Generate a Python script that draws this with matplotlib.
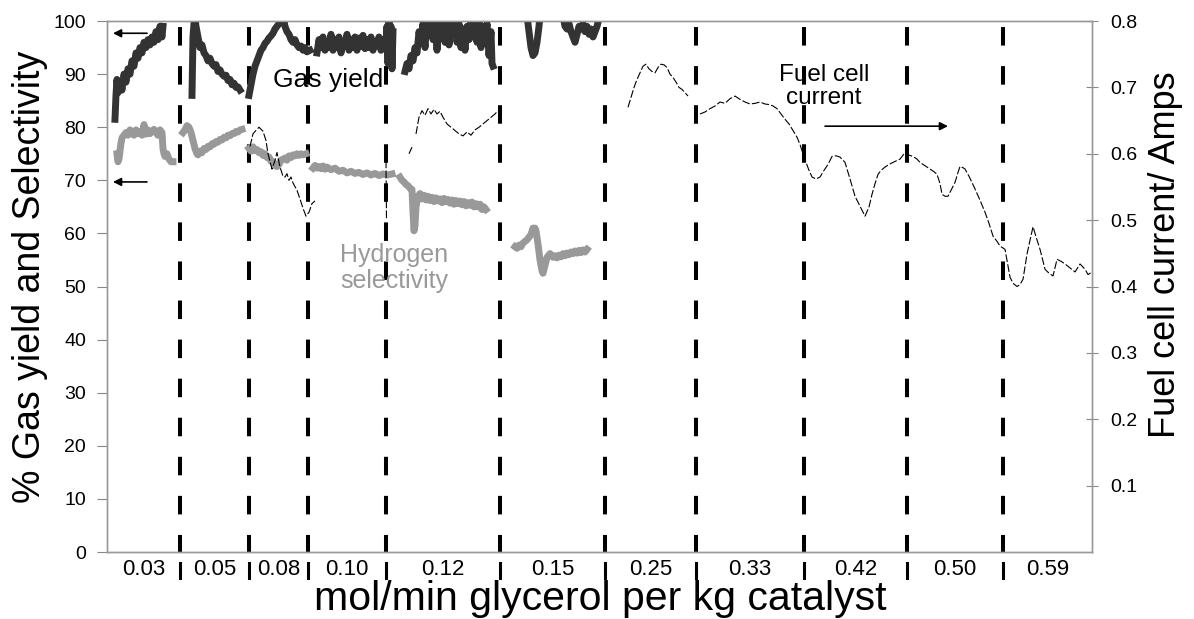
import numpy as np
import matplotlib.pyplot as plt
import matplotlib.transforms as mtransforms

plt.rcParams['font.family'] = ['Liberation Sans', 'DejaVu Sans']

nan = np.nan

# feed rate steps (mol/min glycerol per kg catalyst) and where they change on the run clock
feed_rates = ["0.03", "0.05", "0.08", "0.10", "0.12", "0.15", "0.25", "0.33", "0.42", "0.50", "0.59"]
changes = [0, 73, 142, 201, 279, 393, 498, 589, 697, 800, 896, 985]

# gas yield (%), segments split by nan
gas_t = [8, 9, 10, 11, 13, 15, 17, 19, 21, 23, 25, 27, 29, 31, 33, 35, 37, 39, 41, 43, 45, 47, 49, 51, 53, 55, 56, nan,
         85, 86, 87, 88, 89, 91, 93, 95, 97, 99, 101, 103, 105, 107, 109, 111, 113, 115, 117, 119, 121, 123, 125,
         127, 129, 131, 133, nan,
         142, 144, 146, 148, 150, 152, 154, 156, 158, 160, 162, 164, 166, 168, 170, 172, 174, 176, 178, 180, 182,
         184, 186, 188, 190, 192, 194, 196, 198, 200, 203, nan,
         210, 212, 214, 216, 218, 220, 222, 224, 226, 228, 230, 232, 234, 236, 238, 240, 242, 244, 246, 248, 250,
         252, 254, 256, 258, 260, 262, 264, 266, 268, 270, 272, 274, 276, 278, 279, 280, 281, 282, 283, 284, 285,
         286, nan,
         298, 300, 302, 304, 306, 308, 310, 312, 314, 316, 318, 320, 322, 324, 326, 328, 330, 332, 334, 336, 338,
         340, 342, 344, 346, 348, 350, 352, 354, 356, 358, 360, 362, 364, 366, 368, 370, 372, 374, 376, 378, 380,
         382, 384, 385, 386, nan,
         420, 422, 424, 426, 428, 430, 432, 433, nan,
         456, 458, 460, 462, 464, 466, 468, 470, 472, 474, 476, 478, 480, 482, 484, 486, 488, 490, 492]
gas_yield = [81.5, 86, 89, 86.5, 88.5, 87, 90, 88.5, 91, 90, 92.5, 91.5, 94, 93, 95, 94, 96, 95, 96.5, 95.5, 97, 96,
             98, 96.5, 99, 97, 99, nan,
             86, 97, 99.5, 100.5, 99, 97, 95, 95.5, 94, 93.5, 92.5, 93, 92, 91.5, 91.8, 90.5, 90.8, 90, 89.6, 89.8,
             88.8, 89, 88, 88.3, 87.5, 87.6, 87, nan,
             86, 88, 90, 91.5, 92.5, 93.5, 94.5, 95, 95.8, 96.2, 96.8, 97.2, 97.7, 98.5, 99, 99.5, 100.5, 101, 99,
             98, 97.5, 96.5, 96, 96.5, 95.5, 95, 95.3, 94.5, 95, 94.2, 94.5, nan,
             94, 96.5, 95, 97, 94.5, 96, 95, 97.5, 94.5, 96.5, 95, 97, 94, 96, 95.5, 97.5, 94.5, 96.5, 95, 97, 94.5,
             96.8, 95.2, 97.3, 94.8, 96.5, 95, 97, 94.5, 96, 95.5, 97, 94.5, 96.5, 95, 96, 99, 92, 100, 93, 99, 91,
             98, nan,
             90.5, 92, 91, 93.5, 92.5, 95, 94, 98, 96, 99.5, 95, 100.5, 97.5, 101, 96.5, 100, 94.5, 99, 97, 101, 96,
             100, 95.5, 99.5, 97.5, 101, 96, 99.5, 95, 98.5, 94.5, 99, 96.5, 100.5, 97, 99, 96, 100, 95, 99, 96,
             99.5, 93.5, 98, 92, 91.5, nan,
             101, 98, 95, 93.5, 94, 96, 99, 101, nan,
             101, 99, 98.5, 99.5, 98, 97, 96, 97.5, 99, 98.5, 99.5, 98, 99, 97.5, 98.5, 97, 98, 99, 100.5]

# hydrogen selectivity (%)
sel_t = [10, 11, 12, 13, 14, 15, 17, 19, 21, 23, 25, 27, 29, 31, 33, 35, 37, 39, 41, 43, 45, 47, 49, 51, 53, 55, 56,
         57, 58, 60, 62, 64, 66, nan,
         76, 78, 80, 82, 84, 86, 88, 90, 91, 93, 95, 97, 99, 101, 103, 105, 107, 109, 111, 113, 115, 117, 119, 121,
         123, 125, 127, 129, 131, 133, 135, nan,
         142, 144, 146, 148, 150, 152, 154, 156, 158, 160, 162, 164, 166, 168, 170, 172, 174, 176, 178, 180, 182,
         184, 186, 188, 190, 192, 194, 196, 199, nan,
         206, 208, 210, 212, 214, 216, 218, 220, 224, 228, 232, 236, 240, 244, 248, 252, 256, 260, 264, 268, 272,
         276, 280, 285, nan,
         293, 295, 297, 299, 301, 303, 305, 306, 307, 308, 309, 311, 313, 315, 317, 319, 321, 323, 325, 327, 329,
         331, 333, 335, 337, 339, 341, 343, 345, 347, 349, 351, 353, 355, 357, 359, 361, 363, 365, 367, 369, 371,
         373, 375, 377, 379, nan,
         408, 410, 412, 414, 416, 418, 420, 422, 424, 426, 428, 429, 431, 433, 435, 436, 438, 440, 443, 446, 448,
         450, 452, 454, 456, 458, 460, 462, 464, 466, 468, 470, 472, 474, 476, 478, 480]
h2_sel = [75, 73.5, 74, 75.5, 77, 78, 78.5, 79, 78.5, 79.5, 79, 78.5, 79.5, 78.8, 79.2, 78.5, 80.5, 78.7, 79.5, 78.8,
          79.2, 79.6, 79, 78.5, 79.5, 79, 76, 75, 74.5, 75, 74, 73.5, 73.5, nan,
          79, 79.5, 80.3, 80, 79, 77.5, 76, 75, 74.8, 75.5, 75.2, 76, 75.8, 76.4, 76.3, 76.9, 76.8, 77.3, 77.2,
          77.7, 77.6, 78.1, 78, 78.5, 78.4, 78.8, 78.8, 79.2, 79.1, 79.5, 79.6, nan,
          76, 75.5, 76.3, 75.6, 75.8, 75.2, 75.4, 74.7, 75, 74.3, 74.4, 73.6, 73.5, 72.8, 72.6, 73, 73.8, 74, 74.2,
          73.8, 74.6, 74.3, 74.8, 74.6, 75, 74.7, 75, 74.8, 75, nan,
          72.3, 72.8, 72.3, 72.6, 72.2, 72.7, 72.1, 72.5, 72, 72.3, 71.7, 71.9, 71.4, 71.7, 71.3, 71.5, 71.1, 71.4,
          71, 71.3, 70.9, 71.2, 71, 71.2, nan,
          70.6, 70, 69.7, 69.2, 69, 68.5, 68.3, 64, 60.5, 61.5, 65, 67, 67.5, 66.5, 67.2, 66.3, 67, 66.2, 66.8, 66,
          66.7, 66.1, 66.5, 65.8, 66.6, 66, 66.4, 65.7, 66.3, 65.5, 66.2, 65.6, 66.1, 65.4, 66, 65.2, 65.8, 65.3,
          65.9, 65, 65.6, 65, 65.5, 64.5, 65, 64.5, nan,
          57.5, 57.2, 57.8, 57.5, 58.2, 58.5, 58.8, 59.3, 59.8, 61, 61, 60.5, 58, 55, 53, 52.5, 54, 55.5, 56.2, 55.5,
          55.8, 55.4, 55.9, 55.6, 56.2, 55.8, 56.3, 56, 56.5, 56.2, 56.7, 56.3, 56.8, 56.4, 56.9, 56.5, 57]

# fuel cell current (A)
fc_t = [143, 146, 150, 152, 156, 159, 161, 165, 168, 170, 173, 176, 178, 180, 182, 184, 186, 190, 193, 196, 199,
        202, 205, 208, nan,
        279, 279.5, nan,
        302, 305, nan,
        309, 312, 315, 318, 321, 324, 327, 330, 333, 336, 340, 344, 348, 352, 356, 360, 364, 368, 372, 376, 380,
        384, 388, 391, nan,
        521, 524, 527, 530, 533, 536, 539, 542, 545, 548, 551, 554, 557, 560, 563, 566, 569, 572, 575, 578, 581, nan,
        593, 598, 603, 608, 613, 618, 623, 628, 633, 638, 643, 648, 653, 658, 663, 666, 670, 674, 678, 682, 686,
        690, 693, 696, 699, 702, 705, 709, 713, 717, 721, 725, 729, 733, 738, 743, 748, 753, 758, 762, 765, 768,
        771, 774, 778, 782, 786, 790, 793, 798, 802, 806, 810, 813, 818, 823, 827, 830, 833, 835, 838, 841, 845,
        848, 851, 853, 856, 858, 862, 868, 873, 878, 882, 886, 890, 893, 898, 903, 906, 910, 913, 916, 920, 923,
        926, 929, 933, 938, 942, 946, 950, 954, 958, 963, 968, 973, 978, 981, 985]
fc_current = [0.611, 0.63, 0.637, 0.64, 0.634, 0.62, 0.6, 0.577, 0.59, 0.602, 0.58, 0.566, 0.565, 0.57, 0.56, 0.565,
              0.556, 0.545, 0.532, 0.518, 0.506, 0.512, 0.525, 0.529, nan,
              0.59, 0.5, nan,
              0.6, 0.61, nan,
              0.63, 0.655, 0.665, 0.658, 0.668, 0.66, 0.667, 0.66, 0.664, 0.655, 0.645, 0.64, 0.635, 0.63, 0.627,
              0.633, 0.628, 0.636, 0.64, 0.645, 0.65, 0.655, 0.66, 0.665, nan,
              0.67, 0.685, 0.7, 0.712, 0.722, 0.732, 0.735, 0.728, 0.724, 0.722, 0.73, 0.735, 0.734, 0.73, 0.72,
              0.715, 0.708, 0.7, 0.697, 0.692, 0.687, nan,
              0.66, 0.663, 0.668, 0.672, 0.678, 0.676, 0.683, 0.687, 0.682, 0.678, 0.675, 0.676, 0.678, 0.675,
              0.674, 0.672, 0.668, 0.66, 0.652, 0.645, 0.635, 0.625, 0.614, 0.6, 0.587, 0.575, 0.565, 0.562,
              0.565, 0.575, 0.584, 0.596, 0.597, 0.595, 0.587, 0.562, 0.536, 0.521, 0.506, 0.52, 0.539, 0.555,
              0.569, 0.575, 0.58, 0.584, 0.587, 0.59, 0.592, 0.602, 0.598, 0.596, 0.592, 0.587, 0.582, 0.577,
              0.573, 0.569, 0.555, 0.539, 0.536, 0.536, 0.548, 0.557, 0.572, 0.581, 0.579, 0.577, 0.566, 0.547,
              0.53, 0.512, 0.495, 0.476, 0.468, 0.461, 0.456, 0.414, 0.405, 0.4, 0.403, 0.411, 0.449, 0.47, 0.49,
              0.475, 0.456, 0.426, 0.42, 0.416, 0.441, 0.438, 0.434, 0.428, 0.422, 0.434, 0.426, 0.418, 0.422]

fig = plt.figure(figsize=(11.94, 6.19), dpi=100)
ax = fig.add_axes([0.0896, 0.1082, 0.825, 0.8578])
ax2 = ax.twinx()

trans = mtransforms.blended_transform_factory(ax.transData, ax.transAxes)
for x in changes[1:-1]:
    ax.plot([x, x], [1, 0], transform=trans, color='black', lw=2.9, ls=(8.2, (4.6, 5.1)), zorder=1)
    ax.plot([x, x], [-0.021, -0.049], transform=trans, color='black', lw=2.2, clip_on=False)

ax.plot(gas_t, gas_yield, color='#333333', lw=5, zorder=3)
ax.plot(sel_t, h2_sel, color='#999999', lw=5, zorder=3)
ax2.plot(fc_t, fc_current, color='black', lw=0.8, ls=(0, (7, 2)))

ax.set_xlim(changes[0], changes[-1])
ax.set_ylim(0, 100)
ax.set_yticks(np.arange(0, 101, 10))
ax.set_xticks([])
ax2.set_ylim(0, 0.8)
ax2.set_yticks(np.arange(1, 9) / 10)
ax2.set_yticklabels([f"{v / 10:.1f}" for v in range(1, 9)])

for a in (ax, ax2):
    for s in a.spines.values():
        s.set_color('#999999')
        s.set_linewidth(1)
ax.tick_params(axis='y', direction='out', length=7, color='#888888', labelsize=14, pad=8)
ax2.tick_params(axis='y', direction='inout', length=8, color='#888888', labelsize=14, pad=9)

# feed rate labels between the change lines
mids = [(a + b) / 2 for a, b in zip(changes[:-1], changes[1:])]
for m, lab in zip(mids, feed_rates):
    ax.text(m, -0.0424, lab, transform=trans, ha='center', va='baseline', fontsize=16)

fig.text(0.5025, 0.0145, "mol/min glycerol per kg catalyst", ha='center', va='baseline', fontsize=29.5)
fig.text(0.025, 0.5525, "% Gas yield and Selectivity", rotation=90, ha='center', va='center', fontsize=27)
fig.text(0.976, 0.588, "Fuel cell current/ Amps", rotation=90, ha='center', va='center', fontsize=26)

ax.text(221, 88.9, "Gas yield", ha='center', va='center', fontsize=19, zorder=5)
ax.text(233, 53.5, "Hydrogen\nselectivity", ha='left', va='center', fontsize=18, color='#999999',
        linespacing=1.1)
ax.text(717, 87.6, "Fuel cell\ncurrent", ha='center', va='center', fontsize=17.5, linespacing=1.05)

arrow = dict(arrowstyle='-|>', color='black', lw=1.2, mutation_scale=12, shrinkA=0, shrinkB=0)
ax.annotate('', xy=(6, 97.7), xytext=(40, 97.7), arrowprops=arrow)
ax.annotate('', xy=(6, 69.7), xytext=(40, 69.7), arrowprops=arrow)
ax.annotate('', xy=(841, 80.2), xytext=(718, 80.2), arrowprops=arrow)

fig.savefig('out.png', dpi=100)
